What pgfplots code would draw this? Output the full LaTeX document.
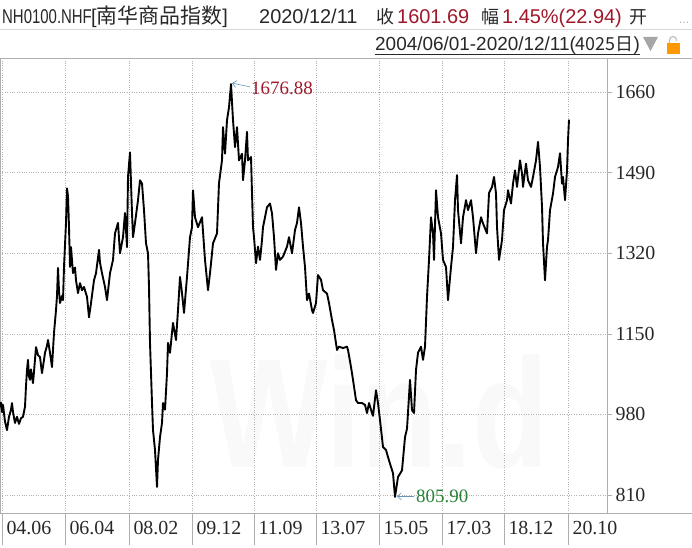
\documentclass[border=0pt]{standalone}
\usepackage{fontspec}
\setmainfont{Liberation Serif}
\newfontfamily\hs{Liberation Sans}
\newfontfamily\hc{Noto Sans CJK SC}
\usepackage{pgfplots}
\pgfplotsset{compat=1.18}
\usetikzlibrary{arrows.meta}
\definecolor{hred}{RGB}{160,24,42}
\definecolor{hgreen}{RGB}{40,130,55}
\definecolor{arr}{RGB}{100,150,190}
\definecolor{txt}{RGB}{40,40,40}
\definecolor{ax}{RGB}{175,175,175}
\begin{document}
\begin{tikzpicture}[x=1bp,y=1bp]
\useasboundingbox (0,0) rectangle (692,548);
\fill[white] (0,0) rectangle (692,548);
% watermark
\node[anchor=base west, inner sep=0, text=gray!5] at (210,80) {\scalebox{1}[1.25]{\fontsize{125}{125}\hs\bfseries Win.d}};
% header row 1
\node[anchor=base west,inner sep=0,text=txt] at (2,524) {\fontsize{20}{20}\hs\scalebox{0.75}[1]{NH0100.NHF}};
\node[anchor=base west,inner sep=0,text=txt] at (91,524) {\fontsize{20}{20}\hs[{\hc\fontsize{21}{21}\selectfont 南华商品指数}]};
\node[anchor=base west,inner sep=0,text=txt] at (259,524) {\fontsize{20}{20}\hs 2020/12/11};
\node[anchor=base west,inner sep=0,text=txt] at (376,524) {\fontsize{18}{18}\hc 收};
\node[anchor=base west,inner sep=0,text=hred] at (397,524) {\fontsize{20}{20}\hs 1601.69};
\node[anchor=base west,inner sep=0,text=txt] at (481,524) {\fontsize{18}{18}\hc 幅};
\node[anchor=base west,inner sep=0,text=hred] at (502,524) {\fontsize{20}{20}\hs 1.45\%(22.94)};
\node[anchor=base west,inner sep=0,text=txt] at (629,524) {\fontsize{18}{18}\hc 开};
\node[anchor=base west,inner sep=0,text=gray!60] at (679,524) {\fontsize{12}{12}\hs ...};
\draw[gray!30, line width=0.6pt] (0,519) -- (692,519);
% header row 2
\node[anchor=base west,inner sep=0,text=txt] at (375,497) {\fontsize{19}{19}\hs 2004/06/01-2020/12/11({\hc\fontsize{18}{18}\selectfont 4025日})};
\draw[txt, line width=0.6pt] (375,494) -- (640,494);
\fill[gray!70] (643,511) -- (658,511) -- (650.5,497) -- cycle;
\fill[orange!80!yellow] (667,494) rectangle (680,505);
\draw[gray!50, line width=1.2pt] (669.5,505) -- (669.5,508) arc (180:0:3.5) -- (676.5,507);
% frame extensions
\draw[ax, line width=0.7pt] (0,490) -- (692,490);
\draw[ax, line width=0.7pt] (0,35) -- (692,35);
\begin{axis}[
 at={(0bp,35bp)}, anchor=south west, scale only axis, width=607bp, height=455bp,
 xmin=0, xmax=607, ymin=772, ymax=1732,
 axis line style={draw=ax, line width=0.7pt},
 xtick={2,65,129,192,254,316,379,442,504,568},
 xticklabels={04.06,06.04,08.02,09.12,11.09,13.07,15.05,17.03,18.12,20.10},
 ytick={810,980,1150,1320,1490,1660},
 xtick pos=bottom, ytick pos=right, yticklabel pos=right,
 tick align=outside, major tick length=5bp, minor tick length=5bp,
 minor x tick num=9,
 tick style={ax, line width=0.5pt},
 xmajorgrids, ymajorgrids,
 grid style={dotted, gray!60, line width=0.5pt},
 ticklabel style={font=\fontsize{20}{20}\selectfont, text=txt},
 xticklabel style={anchor=north west, xshift=1bp},
 yticklabel style={anchor=west},
 scaled y ticks=false,
 /pgf/number format/1000 sep={},
 /pgf/number format/assume math mode=true,
]
\addplot[black, line width=1.9pt, line join=round] coordinates {
(0,995)(1,1005)(2,985)(3,1000)(5,965)(7,947)(9,975)(11,990)(12,1004)(13,985)(15,962)(17,975)(19,960)(21,972)(23,975)(25,996)(26,1040)(27,1074)(28,1095)(29,1060)(30,1053)(31,1075)(33,1046)(34,1070)(36,1122)(38,1105)(40,1101)(42,1067)(44,1095)(45,1110)(47,1125)(48,1137)(50,1110)(52,1080)(54,1152)(56,1200)(57,1230)(58,1289)(59,1240)(60,1215)(62,1230)(63,1221)(64,1291)(66,1384)(67,1457)(68,1440)(69,1375)(70,1291)(71,1333)(73,1278)(75,1290)(76,1263)(78,1236)(80,1257)(82,1242)(84,1249)(87,1228)(89,1185)(91,1215)(94,1263)(96,1278)(99,1327)
(100,1300)(102,1278)(105,1249)(107,1221)(110,1278)(113,1306)(115,1362)(118,1384)(120,1320)(123,1354)(125,1405)(127,1333)(128,1481)(130,1533)(132,1405)(133,1354)(135,1384)(138,1432)(140,1474)(142,1467)(144,1411)(146,1341)(148,1320)(149,1249)(150,1131)(152,1004)(153,947)(155,905)(157,827)(158,884)(160,932)(162,962)(163,1004)(165,990)(167,1067)(168,1131)(170,1110)(173,1173)(176,1137)(178,1200)(180,1270)(182,1236)(184,1194)(187,1270)(190,1354)(192,1375)(193,1453)
(195,1396)(198,1375)(202,1396)(205,1306)(208,1242)(210,1278)(213,1341)(217,1362)(219,1468)(222,1516)(223,1586)(225,1530)(227,1601)(229,1628)(231,1677)(233,1601)(235,1544)(237,1586)(239,1516)(242,1530)(243,1474)(245,1516)(247,1576)(248,1516)(251,1523)(252,1447)(253,1375)(254,1354)(256,1299)(258,1334)(260,1306)(262,1348)(263,1375)(267,1417)(270,1425)(272,1404)(274,1354)(276,1285)(278,1320)(280,1306)(283,1313)(287,1334)
(289,1354)(292,1320)(295,1369)(297,1384)(299,1417)(301,1384)(303,1334)(305,1291)(307,1221)(309,1235)(312,1200)(313,1194)(316,1215)(318,1274)(321,1264)(323,1242)(327,1235)(329,1215)(332,1179)(334,1158)(337,1116)(339,1123)(343,1120)(347,1123)(348,1116)(351,1080)(353,1053)(356,1010)(358,1004)(362,1004)(365,1000)(367,983)(369,1004)(372,983)(373,977)(376,1031)(378,1004)(380,968)(383,911)(386,905)(388,890)(390,876)(393,856)(395,806)
(398,848)(402,862)(405,932)(407,950)(410,1053)(412,989)(414,983)(416,1074)(418,1110)(421,1123)(423,1095)(425,1123)(427,1228)(429,1306)(431,1396)(433,1362)(434,1306)(436,1453)(438,1396)(441,1362)(443,1306)(446,1291)(448,1221)(451,1291)(453,1333)(455,1432)(457,1485)(458,1411)(461,1341)(463,1396)(466,1432)(468,1411)(471,1432)(473,1396)(476,1320)(478,1362)(481,1396)(483,1383)(487,1362)(489,1447)
(492,1460)(494,1481)(496,1446)(497,1375)(499,1306)(502,1348)(504,1411)(507,1432)(508,1453)(511,1425)(513,1467)(515,1495)(517,1460)(520,1516)(522,1488)(523,1460)(526,1509)(528,1474)(531,1460)(533,1481)(536,1516)(538,1555)(540,1502)(542,1418)(543,1341)(545,1263)(547,1334)(548,1348)(550,1411)(553,1446)(555,1481)(558,1502)(560,1531)(562,1467)(563,1481)(565,1432)(567,1495)(568,1559)(569,1602)
};
\draw[arr, line width=0.6pt, {Straight Barb[length=4bp,width=7bp]}-] (axis cs:232,1679) -- (axis cs:250,1671);
\node[anchor=west, inner sep=0, text=hred, font=\fontsize{19}{19}\selectfont] at (axis cs:251,1668) {1676.88};
\draw[arr, line width=0.6pt, {Straight Barb[length=4bp,width=7bp]}-] (axis cs:397,807) -- (axis cs:414,807);
\node[anchor=west, inner sep=0, text=hgreen, font=\fontsize{19}{19}\selectfont] at (axis cs:416,807) {805.90};
\end{axis}
\foreach \p in {2,65,129,192,254,316,379,442,504,568} \draw[ax, line width=0.5pt] (\p,35) -- (\p,3);
\end{tikzpicture}
\end{document}
